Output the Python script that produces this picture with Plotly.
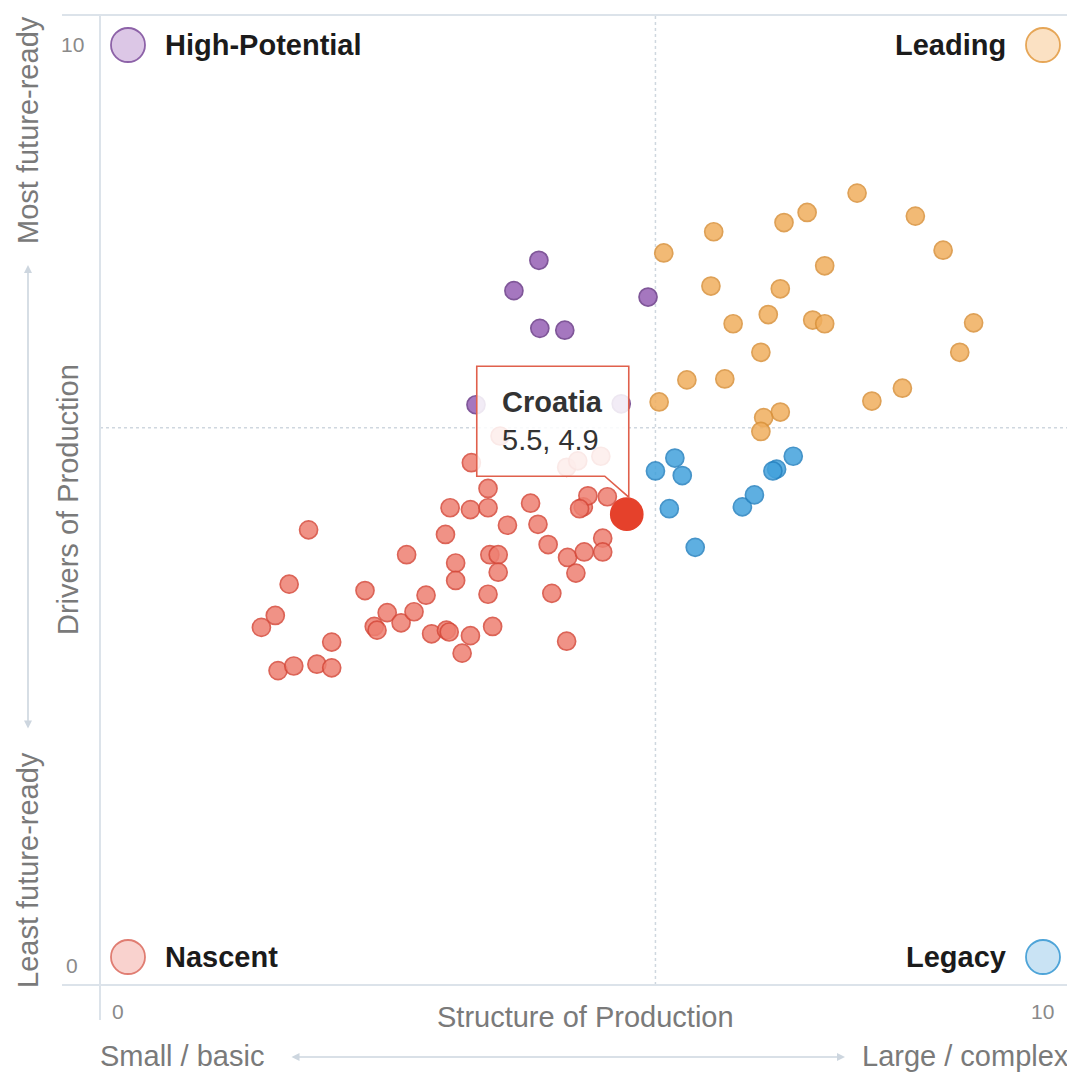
import plotly.graph_objects as go

# ---------------- data ----------------
# x = Structure of Production, y = Drivers of Production (0-10 scale)
nascent_x = [2.06, 1.85, 1.70, 1.55, 2.31, 1.73, 1.90, 2.15, 2.31, 2.67,
             3.12, 2.77, 2.80, 2.91, 3.06, 3.20, 3.33, 3.39, 3.55, 3.58,
             3.81, 3.72, 4.00, 4.05, 3.65, 3.65, 4.02, 4.11, 4.11, 3.54,
             3.59, 3.81, 4.00, 4.00, 3.82, 4.21, 4.46, 4.54, 4.65, 4.86,
             5.04, 5.24, 5.24, 4.95, 4.69, 4.85, 5.03, 5.08, 5.29, 4.13,
             4.85, 4.97, 5.22, 4.99]
nascent_y = [4.73, 4.14, 3.80, 3.67, 3.51, 3.20, 3.25, 3.27, 3.23, 4.07,
             4.46, 3.68, 3.64, 3.83, 3.72, 3.84, 4.02, 3.60, 3.64, 3.62,
             3.58, 3.39, 4.03, 3.68, 4.37, 4.18, 4.46, 4.46, 4.27, 4.68,
             4.97, 4.95, 4.97, 5.18, 5.46, 4.78, 5.02, 4.79, 4.57, 4.43,
             4.49, 4.64, 4.49, 4.26, 4.04, 3.52, 4.98, 5.10, 5.09, 5.75,
             5.41, 5.48, 5.53, 4.96]

leading_x = [7.99, 7.45, 7.20, 6.44, 5.90, 8.62, 8.92, 7.64, 6.41, 7.16,
             7.03, 7.51, 7.64, 6.65, 9.25, 9.10, 6.95, 6.15, 6.56, 8.48,
             8.15, 5.85, 7.16, 6.98, 6.95]
leading_y = [8.39, 8.18, 8.07, 7.97, 7.74, 8.14, 7.77, 7.60, 7.38, 7.35,
             7.07, 7.01, 6.97, 6.97, 6.98, 6.66, 6.66, 6.36, 6.37, 6.27,
             6.13, 6.12, 6.01, 5.95, 5.80]

highpot_x = [4.55, 4.28, 4.56, 4.83, 5.73, 3.87, 5.44]
highpot_y = [7.66, 7.33, 6.92, 6.90, 7.26, 6.09, 6.10]

legacy_x = [5.81, 6.02, 6.10, 5.96, 6.24, 6.75, 6.88, 7.12, 7.08, 7.30]
legacy_y = [5.37, 5.51, 5.32, 4.96, 4.54, 4.98, 5.11, 5.39, 5.37, 5.53]

highlight_name = "Croatia"
highlight_x = [5.5]
highlight_y = [4.9]

divider_x = 5.81
divider_y = 5.84

quadrant_labels = ["High-Potential", "Leading", "Nascent", "Legacy"]
x_title = "Structure of Production"
y_title = "Drivers of Production"
x_ticks = [0, 10]
y_ticks = [0, 10]

# ---------------- layout geometry ----------------
# the page body has an 8px default margin; positions below are page pixels
OFF = 8
W, H = 1075 - OFF, 1075 - OFF
PL, PT = 100, 15            # plot-area left / top on the page
PW, PH = 970, 970
ML, MT = PL - OFF, PT - OFF
MR, MB = W - ML - PW, H - MT - PH
XR = [-0.195, 10.292]
YR = [-0.217, 10.326]
FONT = "Liberation Sans, Arial, Helvetica, sans-serif"
FS = 29


def pxx(p):  # page pixel x -> paper
    return (p - PL) / PW


def pxy(p):  # page pixel y -> paper
    return (PT + PH - p) / PH


def data2px(x, y):
    return (PL + (x - XR[0]) / (XR[1] - XR[0]) * PW,
            PT + PH - (y - YR[0]) / (YR[1] - YR[0]) * PH)


fig = go.Figure()


def add_group(xs, ys, fill, line, size=18, opacity=0.85):
    fig.add_trace(go.Scatter(
        x=xs, y=ys, mode="markers", hoverinfo="skip",
        marker=dict(size=size, color=fill, opacity=opacity,
                    line=dict(color=line, width=1.7)),
        showlegend=False))


add_group(nascent_x, nascent_y, "#ee8072", "#d6493a")
add_group(highpot_x, highpot_y, "#9660b5", "#6a3a88")
add_group(leading_x, leading_y, "#f0ae5e", "#d9913a")
add_group(legacy_x, legacy_y, "#42a2dc", "#2682c0")
add_group(highlight_x, highlight_y, "#e5412b", "#e5412b", size=32, opacity=1)

shapes = []
frame_col = "#dce3ea"
shapes += [
    dict(type="line", xref="paper", yref="paper", x0=pxx(62), x1=1, y0=1, y1=1,
         line=dict(color=frame_col, width=2)),
    dict(type="line", xref="paper", yref="paper", x0=pxx(62), x1=1, y0=0, y1=0,
         line=dict(color=frame_col, width=2)),
    dict(type="line", xref="paper", yref="paper", x0=0, x1=0, y0=1, y1=pxy(1020),
         line=dict(color=frame_col, width=2)),
    dict(type="line", xref="paper", yref="paper", x0=1, x1=1, y0=1, y1=pxy(1020),
         line=dict(color=frame_col, width=2)),
]
shapes += [
    dict(type="line", xref="x", yref="paper", x0=divider_x, x1=divider_x, y0=0, y1=1,
         layer="below", line=dict(color="#cfd7df", width=1.5, dash="dot")),
    dict(type="line", xref="paper", yref="y", x0=0, x1=1, y0=divider_y, y1=divider_y,
         layer="below", line=dict(color="#cfd7df", width=1.5, dash="dot")),
]

quad = [
    (quadrant_labels[0], 128, 45, "#dcc7e6", "#8d62a8", "left", 163),
    (quadrant_labels[1], 1043, 45, "#fbe1c3", "#e6a657", "right", 1008),
    (quadrant_labels[2], 128, 957, "#f9d2ce", "#e07d72", "left", 163),
    (quadrant_labels[3], 1043, 957, "#c9e3f4", "#4ea4d8", "right", 1008),
]
annotations = []
for name, cx, cy, fc, lc, anc, tx in quad:
    shapes.append(dict(type="circle", xref="paper", yref="paper",
                       xsizemode="pixel", ysizemode="pixel",
                       xanchor=pxx(cx), yanchor=pxy(cy),
                       x0=-17, x1=17, y0=-17, y1=17,
                       fillcolor=fc, line=dict(color=lc, width=1.8)))
    annotations.append(dict(xref="paper", yref="paper", x=pxx(tx), y=pxy(cy),
                            text="<b>%s</b>" % name, showarrow=False,
                            xanchor=anc, yanchor="middle",
                            font=dict(family=FONT, size=FS, color="#1b1b1b")))

tick_font = dict(family=FONT, size=21, color="#8a8a8a")
for t in x_ticks:
    annotations.append(dict(xref="x", yref="paper", x=t, y=pxy(1012), text=str(t),
                            showarrow=False, xanchor="center", yanchor="middle",
                            font=tick_font))
for t in y_ticks:
    annotations.append(dict(xref="paper", yref="y", x=pxx(72), y=t, text=str(t),
                            showarrow=False, xanchor="center", yanchor="middle",
                            font=tick_font))

lab_font = dict(family=FONT, size=FS, color="#7a7a7a")
annotations += [
    dict(xref="paper", yref="paper", x=pxx(585), y=pxy(1017), text=x_title,
         showarrow=False, xanchor="center", yanchor="middle", font=lab_font),
    dict(xref="paper", yref="paper", x=pxx(68), y=pxy(500), text=y_title, textangle=-90,
         showarrow=False, xanchor="center", yanchor="middle", font=lab_font),
    dict(xref="paper", yref="paper", x=pxx(98), y=pxy(1056), text="Small / basic",
         showarrow=False, xanchor="left", yanchor="middle", font=lab_font),
    dict(xref="paper", yref="paper", x=pxx(1071), y=pxy(1056), text="Large / complex",
         showarrow=False, xanchor="right", yanchor="middle", font=lab_font),
    dict(xref="paper", yref="paper", x=pxx(28), y=pxy(130), text="Most future-ready",
         textangle=-90, showarrow=False, xanchor="center", yanchor="middle", font=lab_font),
    dict(xref="paper", yref="paper", x=pxx(28), y=pxy(870), text="Least future-ready",
         textangle=-90, showarrow=False, xanchor="center", yanchor="middle", font=lab_font),
]
arr_col = "#cdd6df"
annotations.append(dict(xref="paper", yref="paper", x=pxx(845), y=pxy(1057),
                        ax=-555, ay=0, text="", showarrow=True, arrowhead=2,
                        arrowside="end+start", arrowsize=1, arrowwidth=1.6,
                        arrowcolor=arr_col))
annotations.append(dict(xref="paper", yref="paper", x=pxx(28), y=pxy(265),
                        ax=0, ay=465, text="", showarrow=True, arrowhead=2,
                        arrowside="end+start", arrowsize=1, arrowwidth=1.6,
                        arrowcolor=arr_col))

# tooltip callout anchored on highlighted point
hx, hy = data2px(highlight_x[0], highlight_y[0])
tip = (hx, hy - 17)
pts = [(tip[0] - 150, tip[1] - 131), (tip[0] + 2, tip[1] - 131), (tip[0] + 2, tip[1]),
       (tip[0] - 22, tip[1] - 21), (tip[0] - 150, tip[1] - 21)]
path = "M " + " L ".join("%.5f,%.5f" % (pxx(a), pxy(b)) for a, b in pts) + " Z"
shapes.append(dict(type="path", xref="paper", yref="paper", path=path,
                   fillcolor="rgba(255,255,255,0.86)", layer="above",
                   line=dict(color="#e0604c", width=1.6)))
annotations.append(dict(xref="paper", yref="paper", x=pxx(tip[0] - 127),
                        y=pxy(tip[1] - 76),
                        text="<b>%s</b><br>%.1f, %.1f" % (highlight_name, highlight_x[0], highlight_y[0]),
                        showarrow=False, xanchor="left", yanchor="middle", align="left",
                        font=dict(family=FONT, size=FS, color="#333333")))

fig.update_layout(
    width=W, height=H, autosize=False,
    margin=dict(l=ML, r=MR, t=MT, b=MB, pad=0),
    paper_bgcolor="white", plot_bgcolor="white",
    xaxis=dict(range=XR, visible=False, fixedrange=True),
    yaxis=dict(range=YR, visible=False, fixedrange=True),
    shapes=shapes, annotations=annotations,
    font=dict(family=FONT),
)

fig.write_html("out.html")
